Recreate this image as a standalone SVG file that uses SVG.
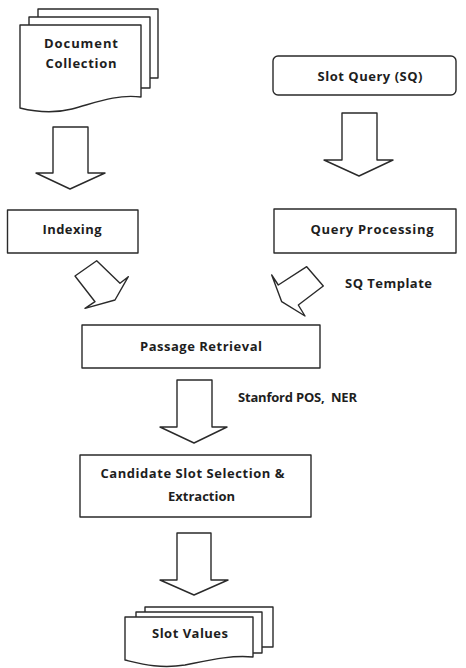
<svg xmlns="http://www.w3.org/2000/svg" width="466" height="668" viewBox="0 0 466 668">
<style>
.s{fill:#fff;stroke:#2a2a2a;stroke-width:1.4;stroke-linejoin:round}
.t{font-family:"Open Sans","Liberation Sans",sans-serif;font-weight:700;font-size:13px;fill:#1e1e1e}
.m{text-anchor:middle}
</style>
<rect width="466" height="668" fill="#fff"/>
<g id="document-collection">
<rect class="s" x="38" y="9" width="120" height="69"/>
<rect class="s" x="29" y="17" width="121" height="71"/>
<path class="s" d="M20,25 H141 V97 C115,94 95,103 72,109 C52,114 36,112 20,108 Z"/>
<text class="t m" x="81" y="48" textLength="74" lengthAdjust="spacing">Document</text>
<text class="t m" x="81" y="68" textLength="71" lengthAdjust="spacing">Collection</text>
</g>
<g id="slot-query">
<rect class="s" x="273" y="56" width="183" height="39" rx="5"/>
<text class="t m" x="370" y="81" textLength="105" lengthAdjust="spacing">Slot Query (SQ)</text>
</g>
<g id="indexing">
<rect class="s" x="7.5" y="210" width="130.5" height="43"/>
<text class="t m" x="72" y="234" textLength="59" lengthAdjust="spacing">Indexing</text>
</g>
<g id="query-processing">
<rect class="s" x="274" y="209" width="182" height="44"/>
<text class="t m" x="372" y="234" textLength="123" lengthAdjust="spacing">Query Processing</text>
</g>
<g id="passage-retrieval">
<rect class="s" x="82" y="325" width="238" height="43"/>
<text class="t m" x="201" y="351" textLength="122" lengthAdjust="spacing">Passage Retrieval</text>
</g>
<g id="candidate-selection">
<rect class="s" x="80" y="455" width="231" height="62"/>
<text class="t m" x="192.5" y="478" textLength="184" lengthAdjust="spacing">Candidate Slot Selection &amp;</text>
<text class="t m" x="201.5" y="501" font-size="12">Extraction</text>
</g>
<g id="slot-values">
<rect class="s" x="145" y="607" width="128" height="40"/>
<rect class="s" x="136" y="612" width="126" height="41"/>
<path class="s" d="M125,617 H253 V657 C230,655 210,660 185,665 C160,669 142,664 125,660 Z"/>
<text class="t m" x="190" y="638" textLength="76" lengthAdjust="spacing">Slot Values</text>
</g>
<g id="connectors">
<path class="s" d="M53,127 H88 V173 H105 L70,189 L36,173 H53 Z"/>
<path class="s" d="M342,113 H377 V160 H393 L359,176 L324,160 H342 Z"/>
<path class="s" d="M96.7,260.7 L75,276 L95,301.7 L85,308.3 L115,300 L128.3,276.7 L120,283.3 Z"/>
<path class="s" d="M306.7,266.7 L323.3,286 L298.3,305 L305,316 L281.7,301.7 L271.7,275 L278.3,285 Z"/>
<path class="s" d="M177,380 H212 V427 H227 L194,443 L160,427 H177 Z"/>
<path class="s" d="M177,533 H211 V580 H228 L194,595 L160,580 H177 Z"/>
<text class="t" x="345" y="288" font-size="11.5" textLength="87" lengthAdjust="spacing">SQ Template</text>
<text class="t" x="238" y="402" font-size="11.5" textLength="119" lengthAdjust="spacing" xml:space="preserve">Stanford POS,  NER</text>
</g>
</svg>
